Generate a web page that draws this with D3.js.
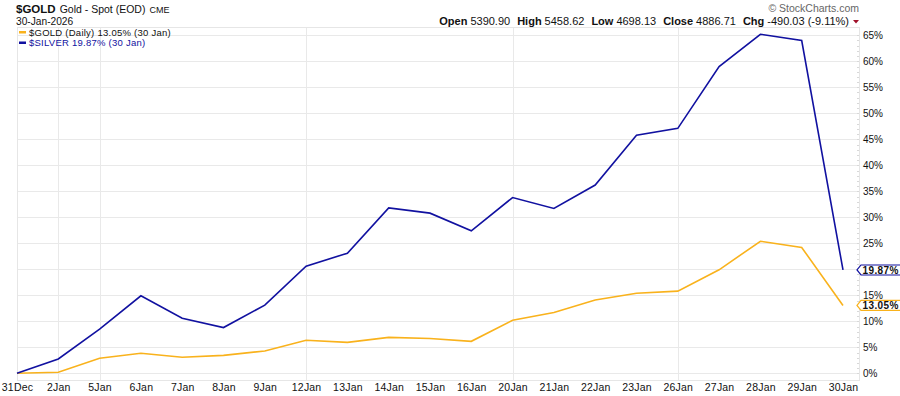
<!DOCTYPE html>
<html>
<head>
<meta charset="utf-8">
<script src="https://cdn.jsdelivr.net/npm/d3@7"></script>
<style>
  body { margin: 0; background: #fff; }
  svg { font-family: "Liberation Sans", Arial, sans-serif; }
</style>
</head>
<body>
<div id="chart"></div>
<script>
// data
var dates = ["31Dec", "2Jan", "5Jan", "6Jan", "7Jan", "8Jan", "9Jan", "12Jan", "13Jan", "14Jan", "15Jan",
  "16Jan", "20Jan", "21Jan", "22Jan", "23Jan", "26Jan", "27Jan", "28Jan", "29Jan", "30Jan"];
var goldPct = [0, 0.2, 2.9, 3.85, 3.1, 3.45, 4.3, 6.35, 5.95, 6.9, 6.7,
  6.15, 10.2, 11.7, 14.1, 15.4, 15.8, 19.9, 25.4, 24.2, 13.05];
var silverPct = [0, 2.75, 8.5, 14.9, 10.6, 8.8, 13.1, 20.6, 23.1, 31.8, 30.8,
  27.4, 33.8, 31.7, 36.2, 45.8, 47.1, 59.0, 65.2, 64.0, 19.87];
var yTicks = [0, 5, 10, 15, 20, 25, 30, 35, 40, 45, 50, 55, 60, 65];
var yLabels = [0, 5, 10, 15, 25, 30, 35, 40, 45, 50, 55, 60, 65]; // 20% sits under the tag
var gridDates = ["2Jan", "5Jan", "12Jan", "20Jan", "26Jan"];
var ohlc = [["Open", "5390.90"], ["High", "5458.62"], ["Low", "4698.13"], ["Close", "4886.71"], ["Chg", "-490.03 (-9.11%)"]];

var svgWidth = 900, svgHeight = 396;
var plot = { left: 17, right: 859, top: 27, bottom: 380 };
var goldColor = "#f9b21c", silverColor = "#1111a0";

var svg = d3.select("#chart").append("svg")
  .attr("width", svgWidth)
  .attr("height", svgHeight);

var x = d3.scalePoint().domain(dates).range([17, 843]);
var y = d3.scaleLinear().domain([0, 65]).range([373.3, 35.3]);

// grid
var grid = svg.append("g");
grid.selectAll(".hgrid").data(yTicks).enter().append("line")
  .attr("x1", plot.left).attr("x2", plot.right)
  .attr("y1", d => Math.round(y(d)) + 0.5).attr("y2", d => Math.round(y(d)) + 0.5)
  .attr("stroke", "#e9e9e9");
grid.selectAll(".vgrid").data(gridDates).enter().append("line")
  .attr("x1", d => Math.round(x(d)) + 0.5).attr("x2", d => Math.round(x(d)) + 0.5)
  .attr("y1", plot.top).attr("y2", plot.bottom)
  .attr("stroke", "#e9e9e9");
grid.append("rect")
  .attr("x", plot.left + 0.5).attr("y", plot.top + 0.5)
  .attr("width", plot.right - plot.left).attr("height", plot.bottom - plot.top)
  .attr("fill", "none").attr("stroke", "#e6e6e6");

// minor ticks on right axis
var minor = d3.range(0, 66, 1);
svg.append("g").selectAll("line").data(minor).enter().append("line")
  .attr("x1", plot.right - 2).attr("x2", plot.right)
  .attr("y1", d => Math.round(y(d)) + 0.5).attr("y2", d => Math.round(y(d)) + 0.5)
  .attr("stroke", "#d8d8d8");

// right axis labels
var yAxis = d3.axisRight(y).tickValues(yLabels).tickSize(0).tickPadding(4).tickFormat(d => d + "%");
svg.append("g")
  .attr("transform", `translate(${plot.right},0)`)
  .call(yAxis)
  .call(g => g.select(".domain").remove())
  .selectAll("text")
  .attr("font-size", "10px")
  .attr("fill", "#111")
  .style("font-family", "'Liberation Sans', Arial, sans-serif");

// bottom axis labels
var xAxis = d3.axisBottom(x).tickSize(0).tickPadding(4);
svg.append("g")
  .attr("transform", `translate(0,${plot.bottom})`)
  .call(xAxis)
  .call(g => g.select(".domain").remove())
  .selectAll("text")
  .attr("font-size", "10.5px")
  .attr("fill", "#111")
  .style("letter-spacing", "0.2px")
  .style("font-family", "'Liberation Sans', Arial, sans-serif");

// lines
var line = d3.line().x((d, i) => x(dates[i])).y(d => y(d));
svg.append("path").datum(goldPct)
  .attr("d", line).attr("fill", "none")
  .attr("stroke", goldColor).attr("stroke-width", 1.6);
svg.append("path").datum(silverPct)
  .attr("d", line).attr("fill", "none")
  .attr("stroke", silverColor).attr("stroke-width", 1.6);

// end-value tags
function tag(val, color) {
  var cy = y(val);
  var g = svg.append("g").attr("transform", `translate(857,${cy})`);
  g.append("path")
    .attr("d", "M0,0 L4,-5 L44,-5 L44,5 L4,5 Z")
    .attr("fill", "#fff").attr("stroke", color).attr("stroke-width", 1.2);
  g.append("text")
    .attr("x", 5.5).attr("y", 3.6)
    .attr("font-size", "10px").attr("font-weight", "bold")
    .style("letter-spacing", "0.4px")
    .attr("fill", "#111")
    .text(val.toFixed(2) + "%");
}
tag(silverPct[silverPct.length - 1], silverColor);
tag(goldPct[goldPct.length - 1], goldColor);

// header
var title = svg.append("text").attr("x", 16).attr("y", 13).attr("fill", "#111");
title.append("tspan").attr("font-size", "11.5px").attr("font-weight", "bold").text("$GOLD");
title.append("tspan").attr("font-size", "10.5px").attr("dx", 4).text("Gold - Spot (EOD)");
title.append("tspan").attr("font-size", "9px").attr("dx", 4).text("CME");
svg.append("text").attr("x", 16).attr("y", 24.8)
  .attr("font-size", "10.2px").attr("fill", "#111").text("30-Jan-2026");

// legend
var legend = [["$GOLD (Daily) 13.05% (30 Jan)", goldColor, "#111"], ["$SILVER 19.87% (30 Jan)", silverColor, silverColor]];
var lg = svg.append("g").selectAll("g").data(legend).enter().append("g")
  .attr("transform", (d, i) => `translate(19,${32.5 + i * 10.5})`);
lg.append("rect").attr("x", 0).attr("y", -1.5).attr("width", 7).attr("height", 2.5).attr("fill", d => d[1]);
lg.append("text").attr("x", 10).attr("y", 3.3).attr("font-size", "9.5px")
  .style("letter-spacing", "0.25px")
  .attr("fill", d => d[2]).text(d => d[0]);

// copyright
svg.append("text").attr("x", 859).attr("y", 12).attr("text-anchor", "end")
  .attr("font-size", "10.5px").attr("fill", "#666").text("\u00A9 StockCharts.com");

// OHLC line
var info = svg.append("text").attr("x", 849).attr("y", 24.5).attr("text-anchor", "end")
  .attr("font-size", "11px").attr("fill", "#111");
ohlc.forEach(function (p, i) {
  info.append("tspan").attr("font-weight", "bold").attr("dx", i ? 7 : 0).text(p[0]);
  info.append("tspan").attr("dx", 3).text(p[1]);
});
svg.append("path").attr("d", "M853,20 L859,20 L856,23.5 Z").attr("fill", "#a0102a");
</script>
</body>
</html>
